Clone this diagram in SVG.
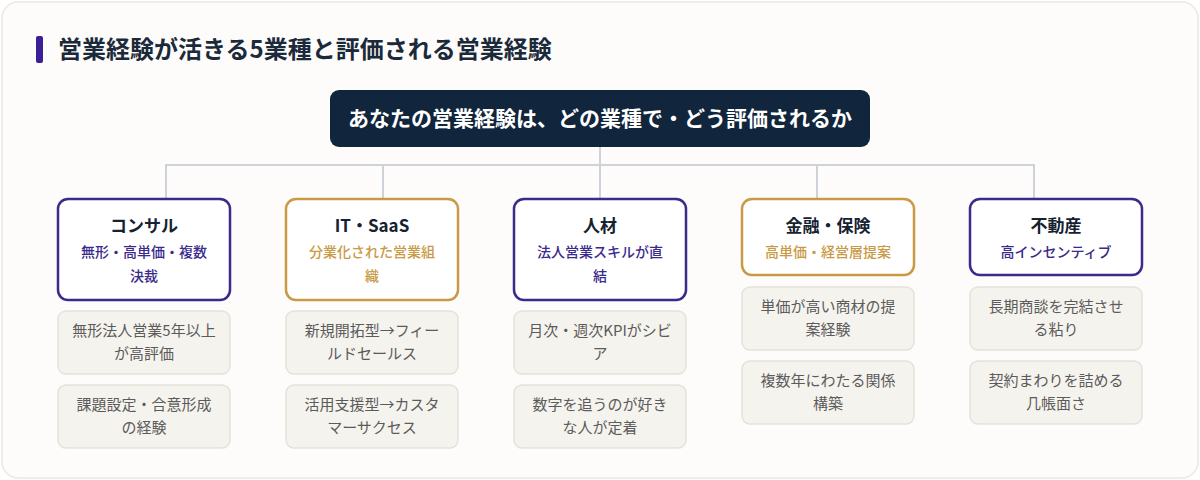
<svg xmlns="http://www.w3.org/2000/svg" width="1200" height="480" viewBox="0 0 1200 480">
<style>
text{font-family:"Noto Sans CJK JP","Noto Sans",sans-serif;text-anchor:middle}
.ttl{font-size:24px;font-weight:700;fill:#1b2a3b;text-anchor:start}
.root{fill:#11263c}
.roott{font-size:21px;font-weight:700;fill:#ffffff}
.cat{fill:#ffffff;stroke-width:2.5}
.pur{stroke:#3a2a8c}
.gold{stroke:#c99a45}
.ct{font-size:17px;font-weight:700;fill:#16222f}
.sp{font-size:14px;font-weight:500;fill:#3a2a8c}
.sg{font-size:14px;font-weight:500;fill:#c99a45}
.det{fill:#f5f3ee;stroke:#e5e2da;stroke-width:1.5}
.dt{font-size:15px;fill:#5b5b5b}
.con{stroke:#cdd3d9;stroke-width:2;fill:none}
</style>
<rect x="2" y="2" width="1196" height="476" rx="16" fill="#fdfcfa" stroke="#ebe8e0" stroke-width="1.5"/>
<rect x="36" y="36" width="7" height="27" rx="2" fill="#3b1f94"/>
<text class="ttl" x="58" y="58">営業経験が活きる5業種と評価される営業経験</text>
<g id="connectors">
<path class="con" d="M600 147V165M166 199V165H1034V199M383 165V199M600 165V199M817 165V199"/>
</g>
<g id="root">
<rect class="root" x="330" y="90" width="540" height="57" rx="9"/>
<text class="roott" x="600" y="126">あなたの営業経験は、どの業種で・どう評価されるか</text>
</g>
<g id="consul">
<rect class="cat pur" x="58" y="199" width="172" height="101" rx="10"/>
<text class="ct" x="144" y="232">コンサル</text>
<text class="sp" x="144" y="257">無形・高単価・複数</text>
<text class="sp" x="144" y="281">決裁</text>
</g>
<g id="consul-d1">
<rect class="det" x="58" y="311" width="172" height="63" rx="8"/>
<text class="dt" x="144" y="336">無形法人営業5年以上</text>
<text class="dt" x="144" y="359">が高評価</text>
</g>
<g id="consul-d2">
<rect class="det" x="58" y="385" width="172" height="63" rx="8"/>
<text class="dt" x="144" y="410">課題設定・合意形成</text>
<text class="dt" x="144" y="433">の経験</text>
</g>
<g id="saas">
<rect class="cat gold" x="286" y="199" width="172" height="101" rx="10"/>
<text class="ct" x="372" y="232">IT・SaaS</text>
<text class="sg" x="372" y="257">分業化された営業組</text>
<text class="sg" x="372" y="281">織</text>
</g>
<g id="saas-d1">
<rect class="det" x="286" y="311" width="172" height="63" rx="8"/>
<text class="dt" x="372" y="336">新規開拓型→フィー</text>
<text class="dt" x="372" y="359">ルドセールス</text>
</g>
<g id="saas-d2">
<rect class="det" x="286" y="385" width="172" height="63" rx="8"/>
<text class="dt" x="372" y="410">活用支援型→カスタ</text>
<text class="dt" x="372" y="433">マーサクセス</text>
</g>
<g id="jinzai">
<rect class="cat pur" x="514" y="199" width="172" height="101" rx="10"/>
<text class="ct" x="600" y="232">人材</text>
<text class="sp" x="600" y="257">法人営業スキルが直</text>
<text class="sp" x="600" y="281">結</text>
</g>
<g id="jinzai-d1">
<rect class="det" x="514" y="311" width="172" height="63" rx="8"/>
<text class="dt" x="600" y="336">月次・週次KPIがシビ</text>
<text class="dt" x="600" y="359">ア</text>
</g>
<g id="jinzai-d2">
<rect class="det" x="514" y="385" width="172" height="63" rx="8"/>
<text class="dt" x="600" y="410">数字を追うのが好き</text>
<text class="dt" x="600" y="433">な人が定着</text>
</g>
<g id="kinyu">
<rect class="cat gold" x="742" y="199" width="172" height="76" rx="10"/>
<text class="ct" x="828" y="232">金融・保険</text>
<text class="sg" x="828" y="257">高単価・経営層提案</text>
</g>
<g id="kinyu-d1">
<rect class="det" x="742" y="287" width="172" height="63" rx="8"/>
<text class="dt" x="828" y="312">単価が高い商材の提</text>
<text class="dt" x="828" y="335">案経験</text>
</g>
<g id="kinyu-d2">
<rect class="det" x="742" y="361" width="172" height="63" rx="8"/>
<text class="dt" x="828" y="386">複数年にわたる関係</text>
<text class="dt" x="828" y="409">構築</text>
</g>
<g id="fudosan">
<rect class="cat pur" x="970" y="199" width="172" height="76" rx="10"/>
<text class="ct" x="1056" y="232">不動産</text>
<text class="sp" x="1056" y="257">高インセンティブ</text>
</g>
<g id="fudosan-d1">
<rect class="det" x="970" y="287" width="172" height="63" rx="8"/>
<text class="dt" x="1056" y="312">長期商談を完結させ</text>
<text class="dt" x="1056" y="335">る粘り</text>
</g>
<g id="fudosan-d2">
<rect class="det" x="970" y="361" width="172" height="63" rx="8"/>
<text class="dt" x="1056" y="386">契約まわりを詰める</text>
<text class="dt" x="1056" y="409">几帳面さ</text>
</g>
</svg>
